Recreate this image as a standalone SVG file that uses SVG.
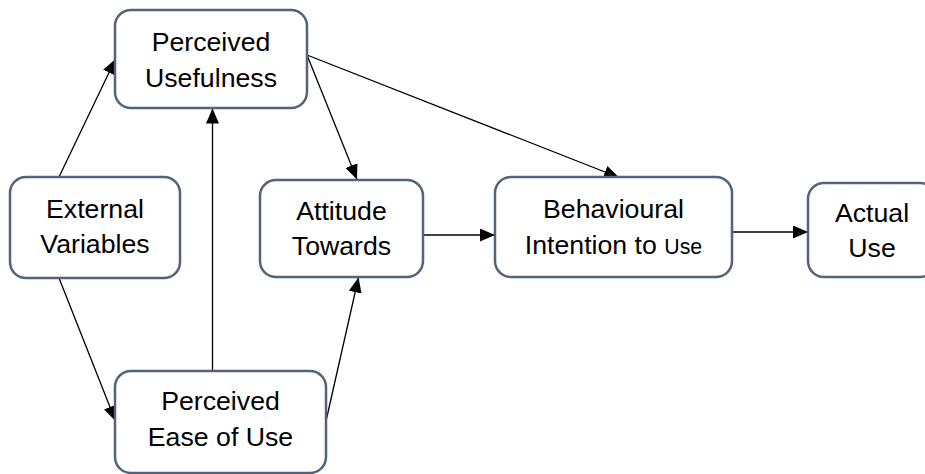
<svg xmlns="http://www.w3.org/2000/svg" width="925" height="474" viewBox="0 0 925 474">
  <defs>
    <marker id="arrow" markerUnits="userSpaceOnUse" markerWidth="15" markerHeight="13" refX="15" refY="6.5" orient="auto">
      <path d="M0,0 L15,6.5 L0,13 z" fill="#000"/>
    </marker>
    <style>
      .box { fill: #ffffff; stroke: #53637a; stroke-width: 2.5; }
      .lbl { font-family: "Liberation Sans", Arial, sans-serif; font-size: 26.7px; fill: #000; text-anchor: middle; }
      .sm { font-size: 21.3px; }
      .edge { fill: none; stroke: #000; stroke-width: 1.3; marker-end: url(#arrow); }
    </style>
  </defs>
  <rect width="925" height="474" fill="#ffffff"/>

  <g id="connectors">
    <line class="edge" x1="59" y1="177" x2="115.5" y2="59"/>
    <line class="edge" x1="59" y1="278" x2="115.5" y2="421"/>
    <line class="edge" x1="212.5" y1="371" x2="212.5" y2="108.5"/>
    <line class="edge" x1="326" y1="421" x2="358.5" y2="277.5"/>
    <line class="edge" x1="307" y1="55" x2="357" y2="179.5"/>
    <line class="edge" x1="307" y1="55" x2="619" y2="177.5"/>
    <line class="edge" x1="423" y1="235" x2="495" y2="235"/>
    <line class="edge" x1="732" y1="232" x2="808" y2="232"/>
  </g>

  <g id="perceived-usefulness">
    <rect class="box" x="115" y="10" width="192" height="98" rx="16"/>
    <text class="lbl" x="211" y="51">Perceived</text>
    <text class="lbl" x="211" y="87">Usefulness</text>
  </g>

  <g id="external-variables">
    <rect class="box" x="10" y="177" width="170" height="101" rx="16"/>
    <text class="lbl" x="95" y="218">External</text>
    <text class="lbl" x="95" y="253">Variables</text>
  </g>

  <g id="attitude-towards">
    <rect class="box" x="260" y="180" width="163" height="97" rx="16"/>
    <text class="lbl" x="341.5" y="220">Attitude</text>
    <text class="lbl" x="341.5" y="255">Towards</text>
  </g>

  <g id="behavioural-intention">
    <rect class="box" x="495" y="177" width="237" height="100" rx="16"/>
    <text class="lbl" x="613.5" y="218">Behavioural</text>
    <text class="lbl" x="613.5" y="254">Intention to <tspan class="sm">Use</tspan></text>
  </g>

  <g id="actual-use">
    <rect class="box" x="808" y="183" width="128" height="94" rx="16"/>
    <text class="lbl" x="872" y="222">Actual</text>
    <text class="lbl" x="872" y="257">Use</text>
  </g>

  <g id="perceived-ease-of-use">
    <rect class="box" x="115" y="371" width="211" height="102" rx="16"/>
    <text class="lbl" x="220.5" y="410">Perceived</text>
    <text class="lbl" x="220.5" y="446">Ease of Use</text>
  </g>
</svg>
